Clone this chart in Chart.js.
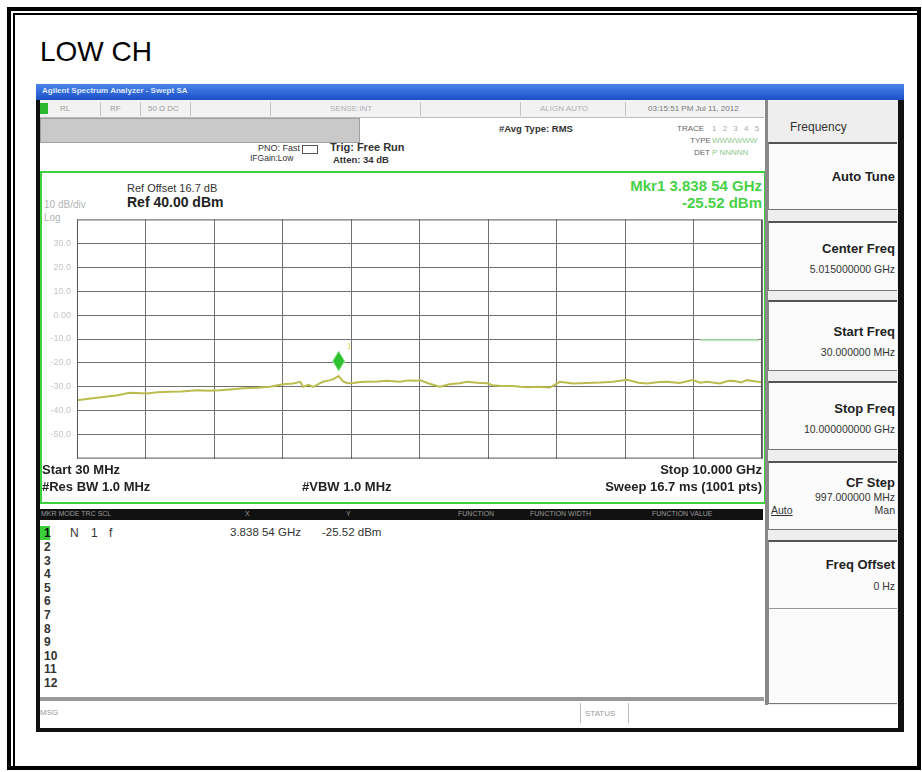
<!DOCTYPE html>
<html>
<head>
<meta charset="utf-8">
<script src="https://cdn.jsdelivr.net/npm/chart.js@4.4.0/dist/chart.umd.min.js"></script>
<style>
  body { margin: 0; width: 922px; height: 772px; background: #fff; position: relative; overflow: hidden;
         font-family: "Liberation Sans", Arial, sans-serif; }
  .a { position: absolute; white-space: nowrap; }
  .b { font-weight: bold; }
  .tiny { font-size: 8px; color: #9a9a9a; }
  .sep { position: absolute; top: 102px; width: 1px; height: 14px; background: #c4c4c4; }
  .sk { position: absolute; left: 768px; width: 128px; background: #fbfbfb;
        border-top: 2px solid #555; border-bottom: 1px solid #777; border-left: 1px solid #888; }
  .sk .t { position: absolute; right: 2px; font-weight: bold; font-size: 13px; color: #222; }
  .sk .v { position: absolute; right: 2px; font-size: 10.5px; color: #333; }
  .row { position: absolute; left: 44px; font-size: 12px; font-weight: bold; color: #333; }
</style>
</head>
<body>
<!-- page frame -->
<div class="a" style="left:7px;top:7px;width:906px;height:755px;border:4px solid #000;"></div>
<div class="a" style="left:13px;top:13px;width:2px;height:753px;background:#000;"></div>
<div class="a" style="left:13px;top:13px;width:904px;height:2px;background:#000;"></div>
<div class="a" style="left:40px;top:36px;font-size:28px;color:#000;">LOW CH</div>

<!-- screenshot body -->
<div class="a" style="left:36px;top:84px;width:858px;height:644px;background:#fff;border-left:4px solid #111;border-right:6px solid #111;border-bottom:4px solid #111;"></div>
<div class="a" style="left:36px;top:84px;width:868px;height:16px;background:linear-gradient(#4a86ea,#1b4fc6);"></div>
<div class="a" style="left:42px;top:86px;font-size:8px;color:#dfe8ff;font-weight:bold;">Agilent Spectrum Analyzer - Swept SA</div>
<div class="a" style="left:40px;top:100px;width:724px;height:17px;background:#f2f2f2;border-bottom:1px solid #bbb;"></div>
<div class="a" style="left:40px;top:103px;width:8px;height:11px;background:#2cb82c;"></div>
<div class="sep" style="left:100px;"></div><div class="sep" style="left:140px;"></div>
<div class="sep" style="left:190px;"></div><div class="sep" style="left:270px;"></div>
<div class="sep" style="left:420px;"></div><div class="sep" style="left:520px;"></div>
<div class="sep" style="left:625px;"></div>
<div class="a tiny" style="left:60px;top:104px;">RL</div>
<div class="a tiny" style="left:110px;top:104px;">RF</div>
<div class="a tiny" style="left:148px;top:104px;">50 Ω  DC</div>
<div class="a tiny" style="left:330px;top:104px;color:#b0b0b0;">SENSE:INT</div>
<div class="a tiny" style="left:540px;top:104px;color:#b0b0b0;">ALIGN AUTO</div>
<div class="a tiny" style="left:648px;top:104px;color:#777;">03:15:51 PM Jul 11, 2012</div>
<div class="a" style="left:40px;top:118px;width:318px;height:23px;background:#c9c9c9;border:1px solid #a0a0a0;"></div>
<div class="a" style="left:258px;top:143px;font-size:9px;color:#333;">PNO: Fast</div>
<div class="a" style="left:250px;top:153px;font-size:8.5px;color:#333;">IFGain:Low</div>
<div class="a" style="left:302px;top:145px;width:14px;height:7px;border:1px solid #555;"></div>
<div class="a b" style="left:330px;top:141px;font-size:11px;color:#333;">Trig: Free Run</div>
<div class="a b" style="left:333px;top:154px;font-size:9.5px;color:#333;">Atten: 34 dB</div>
<div class="a b" style="left:499px;top:123px;font-size:9.5px;color:#333;">#Avg Type: RMS</div>
<div class="a tiny" style="left:677px;top:124px;color:#666;">TRACE</div>
<div class="a tiny" style="left:690px;top:136px;color:#666;">TYPE</div>
<div class="a tiny" style="left:694px;top:148px;color:#666;">DET</div>
<div class="a tiny" style="left:712px;top:124px;color:#aaa;letter-spacing:2px;">1 2 3 4 5 6</div>
<div class="a tiny" style="left:712px;top:136px;color:#8ec88e;">WWWWWW</div>
<div class="a tiny" style="left:712px;top:148px;color:#8ec88e;">P NNNNN</div>

<!-- display area -->
<div class="a" style="left:40px;top:171px;width:722px;height:329px;border:2px solid #3fd23f;"></div>
<div class="a" style="left:127px;top:182px;font-size:11px;color:#333;">Ref Offset 16.7 dB</div>
<div class="a b" style="left:127px;top:194px;font-size:14px;color:#222;">Ref 40.00 dBm</div>
<div class="a" style="left:44px;top:199px;font-size:10px;color:#b4b4b4;">10 dB/div</div>
<div class="a" style="left:44px;top:212px;font-size:10px;color:#b4b4b4;">Log</div>
<div class="a b" style="right:160px;top:177px;font-size:15px;color:#49d149;">Mkr1 3.838 54 GHz</div>
<div class="a b" style="right:160px;top:194px;font-size:15px;color:#49d149;">-25.52 dBm</div>
<div class="a" style="left:42px;top:208px;width:724px;height:262px;"><canvas id="spec"></canvas></div>
<div class="a b" style="left:42px;top:462px;font-size:13px;color:#222;">Start 30 MHz</div>
<div class="a b" style="left:42px;top:479px;font-size:13px;color:#222;">#Res BW 1.0 MHz</div>
<div class="a b" style="left:302px;top:479px;font-size:13px;color:#222;">#VBW 1.0 MHz</div>
<div class="a b" style="right:160px;top:462px;font-size:13px;color:#222;">Stop 10.000 GHz</div>
<div class="a b" style="right:160px;top:479px;font-size:13px;color:#222;">Sweep  16.7 ms (1001 pts)</div>

<!-- marker table -->
<div class="a" style="left:40px;top:509px;width:723px;height:11px;background:#111;"></div>
<div class="a tiny" style="left:41px;top:510px;font-size:7px;color:#999;">MKR MODE TRC SCL</div>
<div class="a tiny" style="left:245px;top:510px;font-size:7px;color:#999;">X</div>
<div class="a tiny" style="left:346px;top:510px;font-size:7px;color:#999;">Y</div>
<div class="a tiny" style="left:458px;top:510px;font-size:7px;color:#999;">FUNCTION</div>
<div class="a tiny" style="left:530px;top:510px;font-size:7px;color:#999;">FUNCTION WIDTH</div>
<div class="a tiny" style="left:652px;top:510px;font-size:7px;color:#999;">FUNCTION VALUE</div>
<div class="a" style="left:40px;top:526px;width:10px;height:14px;background:#3ccf3c;"></div>
<div class="a" style="left:70px;top:526px;font-size:12px;color:#333;">N</div>
<div class="a" style="left:91px;top:526px;font-size:12px;color:#333;">1</div>
<div class="a" style="left:109px;top:526px;font-size:12px;color:#333;">f</div>
<div class="a" style="left:230px;top:526px;font-size:11.5px;color:#333;">3.838 54 GHz</div>
<div class="a" style="left:322px;top:526px;font-size:11.5px;color:#333;">-25.52 dBm</div>
<div id="rows"></div>
<div class="a" style="left:40px;top:697px;width:724px;height:4px;background:#999;"></div>
<div class="a tiny" style="left:40px;top:708px;">MSG</div>
<div class="a" style="left:580px;top:703px;width:1px;height:20px;background:#bbb;"></div>
<div class="a tiny" style="left:585px;top:709px;">STATUS</div>
<div class="a" style="left:628px;top:703px;width:1px;height:20px;background:#bbb;"></div>

<!-- softkey panel -->
<div class="a" style="left:765px;top:100px;width:3px;height:605px;background:#888;"></div>
<div class="a" style="left:768px;top:100px;width:130px;height:605px;background:#eee;"></div>
<div class="a" style="left:790px;top:120px;font-size:12px;color:#333;">Frequency</div>
<div class="sk" style="top:142px;height:65px;"><div class="t" style="top:25px;">Auto Tune</div></div>
<div class="sk" style="top:221px;height:67px;"><div class="t" style="top:18px;">Center Freq</div><div class="v" style="top:40px;">5.015000000 GHz</div></div>
<div class="sk" style="top:300px;height:68px;"><div class="t" style="top:22px;">Start Freq</div><div class="v" style="top:44px;">30.000000 MHz</div></div>
<div class="sk" style="top:381px;height:66px;"><div class="t" style="top:18px;">Stop Freq</div><div class="v" style="top:40px;">10.000000000 GHz</div></div>
<div class="sk" style="top:461px;height:66px;"><div class="t" style="top:12px;">CF Step</div><div class="v" style="top:28px;">997.000000 MHz</div>
  <div class="v" style="top:41px;left:2px;right:auto;text-decoration:underline;">Auto</div><div class="v" style="top:41px;">Man</div></div>
<div class="sk" style="top:540px;height:67px;"><div class="t" style="top:15px;">Freq Offset</div><div class="v" style="top:38px;">0 Hz</div></div>
<div class="sk" style="top:608px;height:94px;border-top:1px solid #999;"></div>

<script>
// trace: frequency (GHz) and level (dBm)
const freqGHz = [0.03, 0.2, 0.41, 0.6, 0.8, 1.05, 1.2, 1.38, 1.55, 1.78, 1.95, 2.11, 2.3, 2.45, 2.65, 2.84,
  3.03, 3.18, 3.28, 3.32, 3.4, 3.47, 3.55, 3.61, 3.7, 3.76, 3.8385, 3.9, 3.96, 4.05, 4.15, 4.25, 4.4, 4.54,
  4.73, 4.85, 4.98, 5.02, 5.15, 5.31, 5.45, 5.6, 5.71, 5.85, 6.0, 6.08, 6.2, 6.38, 6.48, 6.6, 6.73, 6.91,
  7.06, 7.25, 7.45, 7.65, 7.83, 8.04, 8.2, 8.33, 8.5, 8.62, 8.8, 8.99, 9.1, 9.2, 9.39, 9.5, 9.58, 9.7,
  9.78, 9.94, 10.0];
const levelDbm = [-35.6, -35.0, -34.2, -33.6, -32.5, -32.8, -32.3, -32.1, -31.9, -31.4, -31.6, -31.4, -31.0,
  -30.6, -30.4, -30.0, -28.9, -28.6, -27.9, -30.0, -29.2, -30.0, -28.8, -27.9, -27.3, -26.8, -25.52, -27.6,
  -28.5, -28.4, -28.0, -27.9, -27.8, -27.5, -27.9, -27.3, -27.5, -27.2, -28.6, -29.9, -28.9, -28.5, -27.9,
  -28.3, -28.5, -29.3, -29.6, -29.7, -30.0, -30.2, -30.0, -30.3, -27.9, -28.6, -28.4, -28.2, -27.9, -27.0,
  -28.3, -28.6, -28.0, -27.9, -28.4, -27.2, -28.3, -27.9, -28.6, -27.6, -27.5, -28.2, -27.2, -27.9, -28.0];
const marker = { f: 3.83854, level: -25.52 };
const displayLineDbm = -10.5;
const displayLineGHz = [9.1, 9.95];
const startGHz = 0.03, stopGHz = 10.0;
const refDbm = 40, bottomDbm = -60, dbPerDiv = 10;
const markerRows = [2, 3, 4, 5, 6, 7, 8, 9, 10, 11, 12];

// marker rows 2..12
let rowsHtml = '<div class="row" style="top:526px;color:#111;">1</div>';
markerRows.forEach((n, i) => {
  rowsHtml += '<div class="row" style="top:' + (540 + i * 13.6) + 'px;">' + n + '</div>';
});
document.getElementById('rows').innerHTML = rowsHtml;

const framePlugin = {
  id: 'frame',
  afterDatasetsDraw(chart) {
    const { ctx, chartArea: a, scales } = chart;
    ctx.save();
    ctx.strokeStyle = '#555';
    ctx.lineWidth = 1;
    ctx.strokeRect(a.left + 0.5, a.top + 0.5, a.right - a.left - 1, a.bottom - a.top - 1);
    // marker 1 diamond above the peak
    const px = scales.x.getPixelForValue(marker.f);
    const py = scales.y.getPixelForValue(marker.level);
    const tip = py - 5;
    ctx.fillStyle = '#2fc02f';
    ctx.strokeStyle = '#9fe89f';
    ctx.beginPath();
    ctx.moveTo(px, tip);
    ctx.lineTo(px - 6, tip - 10);
    ctx.lineTo(px, tip - 20);
    ctx.lineTo(px + 6, tip - 10);
    ctx.closePath();
    ctx.fill();
    ctx.stroke();
    ctx.fillStyle = '#e8d66a';
    ctx.font = '9px "Liberation Sans", Arial';
    ctx.fillText('1', px + 8, tip - 22);
    ctx.restore();
  }
};

new Chart(document.getElementById('spec').getContext('2d'), {
  type: 'line',
  data: {
    datasets: [
      {
        data: freqGHz.map((f, i) => ({ x: f, y: levelDbm[i] })),
        borderColor: '#bcbc4e',
        borderWidth: 2,
        pointRadius: 0,
        tension: 0
      },
      {
        data: displayLineGHz.map(f => ({ x: f, y: displayLineDbm })),
        borderColor: '#b9e8b9',
        borderWidth: 2,
        pointRadius: 0
      }
    ]
  },
  options: {
    responsive: true,
    maintainAspectRatio: false,
    animation: false,
    layout: { padding: { top: 0, right: 4, bottom: 0, left: 0 } },
    plugins: { legend: { display: false }, tooltip: { enabled: false } },
    scales: {
      x: {
        type: 'linear',
        min: startGHz,
        max: stopGHz,
        afterBuildTicks: (scale) => {
          const step = (stopGHz - startGHz) / 10;
          scale.ticks = Array.from({ length: 11 }, (_, i) => ({ value: startGHz + i * step }));
        },
        grid: { color: '#707070', drawTicks: false },
        border: { display: false },
        ticks: { display: false }
      },
      y: {
        min: bottomDbm,
        max: refDbm,
        afterFit: (scale) => { scale.width = 35; },
        grid: { color: '#707070', drawTicks: false },
        border: { display: false },
        ticks: {
          stepSize: dbPerDiv,
          padding: 6,
          color: '#c4c4c4',
          font: { size: 9, family: '"Liberation Sans", Arial' },
          callback: (v) => (v === refDbm || v === bottomDbm) ? null : (v === 0 ? '0.00' : v.toFixed(1))
        }
      }
    }
  },
  plugins: [framePlugin]
});
</script>
</body>
</html>
